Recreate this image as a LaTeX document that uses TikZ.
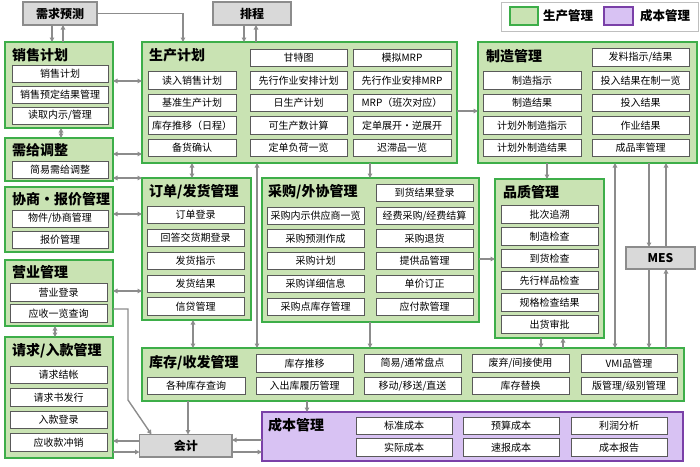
\documentclass[tikz,border=0pt]{standalone}
\usepackage{fontspec}
\setmainfont{Noto Sans CJK SC}
\usetikzlibrary{arrows.meta}
\definecolor{grpfill}{HTML}{C9E3B3}
\definecolor{grpline}{HTML}{3DAE49}
\definecolor{itemline}{HTML}{595959}
\definecolor{extfill}{HTML}{D9D9D9}
\definecolor{extline}{HTML}{8C8C8C}
\definecolor{costfill}{HTML}{D8C2F3}
\definecolor{costline}{HTML}{7A40A8}
\definecolor{linkgray}{HTML}{8C8C8C}
\definecolor{lgline}{HTML}{BFBFBF}
\tikzset{
  grp/.style={draw=grpline,fill=grpfill,line width=1.8pt,anchor=north west,inner sep=0pt,outer sep=0pt},
  cost/.style={draw=costline,fill=costfill,line width=1.8pt,anchor=north west,inner sep=0pt,outer sep=0pt},
  item/.style={draw=itemline,fill=white,line width=1pt,anchor=north west,minimum width=97pt,minimum height=17.5pt,inner sep=0pt,outer sep=0pt,font=\fontsize{10pt}{10pt}\selectfont},
  ext/.style={draw=extline,fill=extfill,line width=1.8pt,anchor=north west,inner sep=0pt,outer sep=0pt,font=\fontsize{12pt}{12pt}\selectfont\bfseries},
  ttl/.style={anchor=west,inner sep=0pt,font=\fontsize{14pt}{14pt}\selectfont\bfseries},
  link/.style={draw=linkgray,line width=1.4pt,>={Triangle[length=4.5pt,width=4.5pt]}}
}
\begin{document}
\begin{tikzpicture}[x=1pt,y=-1pt]
	\useasboundingbox (0,0) rectangle (700,466);
	\node[ext,minimum width=74pt,minimum height=23pt] (fc)at(23,2) {需求预测};
	\node[ext,minimum width=78pt,minimum height=23pt] (sc)at(213,2) {排程};
	\node[ext,minimum width=92.5pt,minimum height=22.5pt] (ac)at(139.5,434.5) {会计};
	\node[ext,minimum width=69pt,minimum height=22pt] (mes)at(626,247) {MES};
	
	\node[draw=lgline,fill=white,line width=1pt,anchor=north west,minimum width=197pt,minimum height=29pt,inner sep=0pt] (lg)at(501,2) {};
	\node[grp,minimum width=28pt,minimum height=18pt] (lg1)at(510,7) {};
	\node[cost,minimum width=29pt,minimum height=18pt] (lg2)at(604,7) {};
	\node[anchor=west,inner sep=0pt,font=\fontsize{12.5pt}{12.5pt}\selectfont\bfseries] (lgt1)at(543,16) {生产管理};
	\node[anchor=west,inner sep=0pt,font=\fontsize{12.5pt}{12.5pt}\selectfont\bfseries] (lgt2)at(640,16) {成本管理};
	
	\node[grp,minimum width=108pt,minimum height=86pt] (sa)at(5,42) {};
	\node[ttl] (sat)at(12,55) {销售计划};
	\node[item,minimum width=96pt,minimum height=17pt] (sa1)at(12,65) {销售计划};
	\node[item,minimum width=96pt,minimum height=17pt] (sa2)at(12,86) {销售预定结果管理};
	\node[item,minimum width=96pt,minimum height=17pt] (sa3)at(12,107) {读取内示/管理};
	
	\node[grp,minimum width=108pt,minimum height=43pt] (sd)at(5,138) {};
	\node[ttl] (sdt)at(12,150) {需给调整};
	\node[item,minimum width=96pt,minimum height=17pt] (sd1)at(12,161) {简易需给调整};
	
	\node[grp,minimum width=108pt,minimum height=65pt] (ng)at(5,187) {};
	\node[ttl] (ngt)at(12,199) {协商・报价管理};
	\node[item,minimum width=96pt,minimum height=17pt] (ng1)at(12,210) {物件/协商管理};
	\node[item,minimum width=96pt,minimum height=17pt] (ng2)at(12,231) {报价管理};
	
	\node[grp,minimum width=108pt,minimum height=66pt] (bm)at(5,260) {};
	\node[ttl] (bmt)at(12,272.5) {营业管理};
	\node[item] (bm1)at(10,283.5) {营业登录};
	\node[item] (bm2)at(10,304.5) {应收一览查询};
	
	\node[grp,minimum width=108pt,minimum height=121pt] (ar)at(5,337) {};
	\node[ttl] (art)at(12,351) {请求/入款管理};
	\node[item] (ar1)at(10,366) {请求结帐};
	\node[item] (ar2)at(10,388.5) {请求书发行};
	\node[item] (ar3)at(10,411) {入款登录};
	\node[item] (ar4)at(10,433.5) {应收款冲销};
	
	\node[grp,minimum width=315pt,minimum height=121pt] (pp)at(142,42) {};
	\node[ttl] (ppt)at(149,55) {生产计划};
	\node[item,minimum width=88pt] (pp11)at(148,71.5) {读入销售计划};
	\node[item,minimum width=88pt] (pp12)at(148,94) {基准生产计划};
	\node[item,minimum width=88pt] (pp13)at(148,116.5) {库存推移（日程）};
	\node[item,minimum width=88pt] (pp14)at(148,139) {备货确认};
	\node[item] (pp21)at(250,49) {甘特图};
	\node[item] (pp22)at(250,71.5) {先行作业安排计划};
	\node[item] (pp23)at(250,94) {日生产计划};
	\node[item] (pp24)at(250,116.5) {可生产数计算};
	\node[item] (pp25)at(250,139) {定单负荷一览};
	\node[item,minimum width=98pt] (pp31)at(353,49) {模拟MRP};
	\node[item,minimum width=98pt] (pp32)at(353,71.5) {先行作业安排MRP};
	\node[item,minimum width=98pt] (pp33)at(353,94) {MRP（班次对应）};
	\node[item,minimum width=98pt] (pp34)at(353,116.5) {定单展开・逆展开};
	\node[item,minimum width=98pt] (pp35)at(353,139) {迟滞品一览};
	
	\node[grp,minimum width=219pt,minimum height=121pt] (mf)at(478,42) {};
	\node[ttl] (mft)at(486,56) {制造管理};
	\node[item,minimum width=98pt] (mf11)at(483,71.5) {制造指示};
	\node[item,minimum width=98pt] (mf12)at(483,94) {制造结果};
	\node[item,minimum width=98pt] (mf13)at(483,116.5) {计划外制造指示};
	\node[item,minimum width=98pt] (mf14)at(483,139) {计划外制造结果};
	\node[item] (mf21)at(592,48.5) {发料指示/结果};
	\node[item] (mf22)at(592,71.5) {投入结果在制一览};
	\node[item] (mf23)at(592,94) {投入结果};
	\node[item] (mf24)at(592,116.5) {作业结果};
	\node[item] (mf25)at(592,139) {成品率管理};
	
	\node[grp,minimum width=109pt,minimum height=142pt] (od)at(142,178) {};
	\node[ttl] (odt)at(149,192) {订单/发货管理};
	\node[item] (od1)at(147,206) {订单登录};
	\node[item] (od2)at(147,229) {回答交货期登录};
	\node[item] (od3)at(147,252) {发货指示};
	\node[item] (od4)at(147,275) {发货结果};
	\node[item] (od5)at(147,297.5) {信贷管理};
	
	\node[grp,minimum width=217pt,minimum height=144pt] (pu)at(262,178) {};
	\node[ttl] (put)at(268,191.5) {采购/外协管理};
	\node[item] (pu11)at(267,207) {采购内示供应商一览};
	\node[item] (pu12)at(267,229.5) {采购预测作成};
	\node[item] (pu13)at(267,252) {采购计划};
	\node[item] (pu14)at(267,275) {采购详细信息};
	\node[item] (pu15)at(267,298) {采购点库存管理};
	\node[item] (pu21)at(376,184) {到货结果登录};
	\node[item] (pu22)at(376,207) {经费采购/经费结算};
	\node[item] (pu23)at(376,229.5) {采购退货};
	\node[item] (pu24)at(376,252) {提供品管理};
	\node[item] (pu25)at(376,275) {单价订正};
	\node[item] (pu26)at(376,298) {应付款管理};
	
	\node[grp,minimum width=109pt,minimum height=159pt] (qc)at(495,179) {};
	\node[ttl] (qct)at(503,192) {品质管理};
	\node[item] (qc1)at(501,205.5) {批次追溯};
	\node[item] (qc2)at(501,227.5) {制造检查};
	\node[item] (qc3)at(501,249.5) {到货检查};
	\node[item] (qc4)at(501,271.5) {先行样品检查};
	\node[item] (qc5)at(501,293.5) {规格检查结果};
	\node[item] (qc6)at(501,315.5) {出货审批};
	
	\node[grp,minimum width=542pt,minimum height=53pt] (inv)at(142,348) {};
	\node[ttl] (invt)at(149,363) {库存/收发管理};
	\node[item] (inv12)at(256,354.5) {库存推移};
	\node[item] (inv13)at(364,354.5) {简易/通常盘点};
	\node[item] (inv14)at(472,354.5) {废弃/间接使用};
	\node[item,minimum width=96pt] (inv15)at(581,354.5) {VMI品管理};
	\node[item,minimum width=98pt] (inv21)at(147,377) {各种库存查询};
	\node[item] (inv22)at(256,377) {入出库履历管理};
	\node[item] (inv23)at(364,377) {移动/移送/直送};
	\node[item] (inv24)at(472,377) {库存替换};
	\node[item,minimum width=96pt] (inv25)at(581,377) {版管理/级别管理};
	
	\node[cost,minimum width=421pt,minimum height=49pt] (cm)at(262,412) {};
	\node[ttl] (cmt)at(268,425) {成本管理};
	\node[item,minimum width=96pt] (cm11)at(356,417) {标准成本};
	\node[item,minimum width=96pt] (cm12)at(463,417) {预算成本};
	\node[item,minimum width=96pt] (cm13)at(571,417) {利润分析};
	\node[item,minimum width=96pt] (cm21)at(356,438.5) {实际成本};
	\node[item,minimum width=96pt] (cm22)at(463,438.5) {速报成本};
	\node[item,minimum width=96pt] (cm23)at(571,438.5) {成本报告};
	
	\draw[link,->] (fc.south -| 52,0) -- (sa.north -| 52,0);
	\draw[link,->] (sa.north -| 63,0) -- (fc.south -| 63,0);
	\draw[link,->] (fc.east) -| (pp.north -| 183,0);
	\draw[link,->] (sc.south -| 244,0) -- (pp.north -| 244,0);
	\draw[link,->] (pp.north -| 256,0) -- (sc.south -| 256,0);
	\draw[link,<->] (sa.east |- 0,81) -- (pp.west |- 0,81);
	\draw[link,<->] (sa.south -| 61,0) -- (sd.north -| 61,0);
	\draw[link,<->] (sd.east |- 0,154) -- (pp.west |- 0,154);
	\draw[link,<->] (sd.east |- 0,178) -- (od.west |- 0,178);
	\draw[link,<->] (ng.east |- 0,214) -- (od.west |- 0,214);
	\draw[link,<->] (bm.east |- 0,291) -- (od.west |- 0,291);
	\draw[link,->] (bm.east |- 0,309) -- ++(15,0) -- ++(0,91) -- ([xshift=12pt]ac.north west);
	\draw[link,<->] (bm.south -| 55,0) -- (ar.north -| 55,0);
	\draw[link,->] (ac.west |- 0,441) -- (ar.east |- 0,441);
	\draw[link,->] (ar.east |- 0,452) -- (ac.west |- 0,452);
	\draw[link,->] (inv.south -| 188,0) -- (ac.north -| 188,0);
	\draw[link,->] (cm.west |- 0,440) -- (ac.east |- 0,440);
	\draw[link,->] (ac.east |- 0,452) -- (cm.west |- 0,452);
	\draw[link,->] (inv.south -| 307,0) -- (cm.north -| 307,0);
	\draw[link,<->] (pp.south -| 192,0) -- (od.north -| 192,0);
	\draw[link,<->] (pp.south -| 257,0) -- (inv.north -| 257,0);
	\draw[link,->] (pp.south -| 370,0) -- (pu.north -| 370,0);
	\draw[link,->] (pu.south -| 370,0) -- (inv.north -| 370,0);
	\draw[link,<->] (od.south -| 193,0) -- (inv.north -| 193,0);
	\draw[link,->] (pp.east |- 0,111) -- (mf.west |- 0,111);
	\draw[link,->] (pu.east |- 0,259) -- (qc.west |- 0,259);
	\draw[link,->] (mf.south -| 547,0) -- (qc.north -| 547,0);
	\draw[link,<->] (mf.south -| 615,0) -- (inv.north -| 615,0);
	\draw[link,->] (mf.south -| 649,0) -- (mes.north -| 649,0);
	\draw[link,->] (mes.north -| 666,0) -- (mf.south -| 666,0);
	\draw[link,->] (mes.south -| 649,0) -- (inv.north -| 649,0);
	\draw[link,->] (inv.north -| 666,0) -- (mes.south -| 666,0);
	\draw[link,->] (qc.south -| 541,0) -- (inv.north -| 541,0);
	\draw[link,->] (inv.north -| 563,0) -- (qc.south -| 563,0);
\end{tikzpicture}
\end{document}
